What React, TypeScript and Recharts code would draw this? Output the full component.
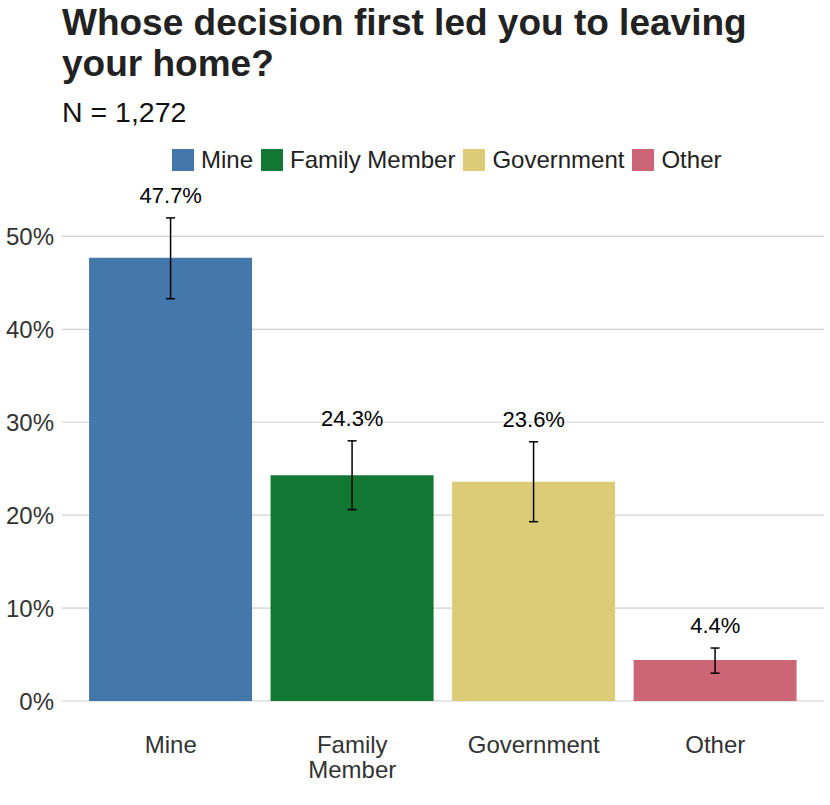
import React from "react";
import { ComposedChart, Bar, Line, XAxis, YAxis, CartesianGrid, ErrorBar, LabelList, Cell } from "recharts";

const categories = ["Mine", "Family Member", "Government", "Other"];
const shares = [47.7, 24.3, 23.6, 4.4];
const lowerCI = [43.3, 20.6, 19.3, 3.0];
const upperCI = [52.0, 28.0, 27.9, 5.7];
const colors = ["#4477AA", "#117733", "#DDCC77", "#CC6677"];
const yTicks = [0, 10, 20, 30, 40, 50];

const data = categories.map((name, i) => ({
  name,
  share: shares[i],
  upper: upperCI[i],
  err: [shares[i] - lowerCI[i], upperCI[i] - shares[i]],
}));

const FONT = "'Liberation Sans', Arial, Helvetica, sans-serif";

function XTick({ x, y, payload }: any) {
  const lines = payload.value === "Family Member" ? ["Family", "Member"] : [payload.value];
  return (
    <text x={x} y={y} textAnchor="middle" fill="#333333" fontSize={24} fontFamily={FONT}>
      {lines.map((l: string, i: number) => (
        <tspan key={i} x={x} dy={i === 0 ? 44 : 25}>
          {l}
        </tspan>
      ))}
    </text>
  );
}

function ValueLabel({ x, y, value }: any) {
  return (
    <text x={x} y={y - 15} textAnchor="middle" fill="#000" fontSize={22} fontFamily={FONT}>
      {value}
    </text>
  );
}

export default function App() {
  return (
    <div style={{ position: "absolute", left: 0, top: 0, width: 830, height: 805, background: "#fff", fontFamily: FONT }}>
      <div style={{ position: "absolute", left: 62, top: 2, fontSize: 37, fontWeight: "bold", color: "#222222", lineHeight: "41px", width: 780 }}>
        Whose decision first led you to leaving
        <br />
        your home?
      </div>
      <div style={{ position: "absolute", left: 62, top: 96, fontSize: 28.5, color: "#111", lineHeight: "32px" }}>N = 1,272</div>
      <div style={{ position: "absolute", left: 172, top: 148, display: "flex" }}>
        {categories.map((c, i) => (
          <div key={c} style={{ display: "flex", alignItems: "center", marginRight: 8 }}>
            <div style={{ width: 22, height: 22, background: colors[i], marginRight: 7 }} />
            <span style={{ fontSize: 24, color: "#222", lineHeight: "24px" }}>{c}</span>
          </div>
        ))}
      </div>
      <div style={{ position: "absolute", left: 0, top: 0 }}>
        <ComposedChart
          width={830}
          height={805}
          data={data}
          barCategoryGap="5%"
          margin={{ top: 190, right: 6, bottom: 24, left: 0 }}
        >
          <CartesianGrid vertical={false} horizontalValues={yTicks} stroke="#d0d0d0" strokeWidth={1.2} />
          <XAxis
            dataKey="name"
            axisLine={false}
            tickLine={false}
            height={80}
            padding={{ left: 18, right: 18 }}
            interval={0}
            tick={<XTick />}
          />
          <YAxis
            domain={[0, 55]}
            ticks={yTicks}
            width={62}
            axisLine={false}
            tickLine={false}
            tickFormatter={(v: number) => `${v}%`}
            tick={{ fill: "#333333", fontSize: 24, fontFamily: FONT }}
          />
          <Bar dataKey="share" isAnimationActive={false}>
            {data.map((d, i) => (
              <Cell key={d.name} fill={colors[i]} />
            ))}
            <ErrorBar dataKey="err" width={4.5} stroke="#000" strokeWidth={1.5} direction="y" />
          </Bar>
          <Line dataKey="upper" stroke="none" dot={false} activeDot={false} isAnimationActive={false} legendType="none">
            <LabelList dataKey="share" content={(p: any) => <ValueLabel {...p} value={`${p.value}%`} />} />
          </Line>
        </ComposedChart>
      </div>
    </div>
  );
}
